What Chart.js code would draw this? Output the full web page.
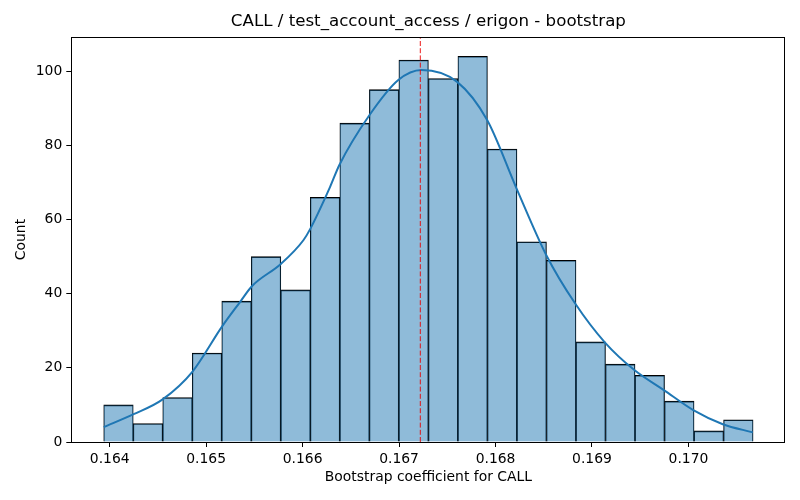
<!DOCTYPE html>
<html>
<head>
<meta charset="utf-8">
<script src="https://cdn.jsdelivr.net/npm/chart.js@4.4.1/dist/chart.umd.min.js"></script>
<style>
  html, body { margin: 0; padding: 0; background: #fff; }
  #wrap { width: 800px; height: 500px; }
</style>
</head>
<body>
<div id="wrap"><canvas id="myChart" width="800" height="500"></canvas></div>
<script>
// histogram bins (left edges + last right edge) and counts
const binEdges = [0.163938, 0.164244, 0.164550, 0.164856, 0.165162, 0.165468,
  0.165774, 0.166080, 0.166386, 0.166692, 0.166998, 0.167304, 0.167610,
  0.167916, 0.168222, 0.168528, 0.168834, 0.169140, 0.169446, 0.169752,
  0.170058, 0.170364, 0.170670];
const counts = [10, 5, 12, 24, 38, 50, 41, 66, 86, 95, 103, 98, 104, 79, 54, 49, 27, 21, 18, 11, 3, 6];

// kde curve
const kdeX = [0.163938, 0.164248, 0.164549, 0.164859, 0.165164, 0.165353, 0.165474,
  0.165774, 0.166008, 0.166078, 0.166285, 0.166381, 0.166692, 0.166992, 0.167234,
  0.167602, 0.167913, 0.168217, 0.168528, 0.168824, 0.169135, 0.169439, 0.169745,
  0.170050, 0.170356, 0.170667];
const kdeY = [4.0, 7.5, 11.5, 19.0, 31.1, 37.8, 42.0, 48.0, 54.4, 57.4, 68.8, 74.7,
  88.1, 97.6, 100.3, 97.1, 86.8, 68.4, 50.3, 37.4, 26.8, 19.4, 14.0, 8.6, 4.8, 2.6];

const meanCoef = 0.16722;
const xTicks = [0.164, 0.165, 0.166, 0.167, 0.168, 0.169, 0.170];
const yTicks = [0, 20, 40, 60, 80, 100];

const xMin = 0.163602, xMax = 0.171006, yMax = 109.2;

Chart.defaults.font.family = "'DejaVu Sans', sans-serif";
Chart.defaults.font.size = 13.9;
Chart.defaults.color = "#000";

const histData = counts.map((c, i) => ({ x: (binEdges[i] + binEdges[i + 1]) / 2, y: c }));
const kdeData = kdeX.map((x, i) => ({ x: x, y: kdeY[i] }));

// matplotlib style box round the axes
const frame = {
  id: "frame",
  afterDatasetsDraw(chart) {
    const { ctx, chartArea: a } = chart;
    ctx.save();
    ctx.strokeStyle = "#000";
    ctx.lineWidth = 1;
    ctx.strokeRect(Math.round(a.left) + 0.5, Math.round(a.top) + 0.5,
      Math.round(a.right - a.left) - 1, Math.round(a.bottom - a.top));
    ctx.restore();
  }
};

const tickGrid = { display: true, offset: false, drawOnChartArea: false, drawTicks: true, tickLength: 5, color: "#000", lineWidth: 1 };

const config = {
  type: "bar",
  data: {
    datasets: [
      {
        type: "line",
        data: [{ x: meanCoef, y: 0 }, { x: meanCoef, y: yMax }],
        borderColor: "rgba(235, 0, 0, 0.9)",
        borderWidth: 1,
        borderDash: [5, 2.2],
        pointRadius: 0,
        order: 0,
      },
      {
        type: "line",
        data: kdeData,
        borderColor: "#1f77b4",
        borderWidth: 2,
        pointRadius: 0,
        cubicInterpolationMode: "monotone",
        order: 1,
      },
      {
        type: "bar",
        data: histData,
        backgroundColor: "rgba(31, 119, 180, 0.5)",
        borderColor: "#000",
        borderWidth: { top: 1, bottom: 0, left: 0.6, right: 0.6 },
        borderSkipped: false,
        barPercentage: 1,
        categoryPercentage: 1,
        grouped: false,
        order: 2,
      },
    ],
  },
  options: {
    responsive: false,
    animation: false,
    layout: { padding: { left: 0, right: 14.5, top: 0, bottom: 0 } },
    plugins: {
      legend: { display: false },
      tooltip: { enabled: false },
      title: {
        display: true,
        text: "CALL / test_account_access / erigon - bootstrap",
        fullSize: false,
        font: { size: 16.67, weight: "normal" },
        padding: { top: 12, bottom: 5 },
        color: "#000",
      },
    },
    scales: {
      x: {
        type: "linear",
        offset: false,
        min: xMin,
        max: xMax,
        grid: tickGrid,
        border: { display: false },
        afterBuildTicks: (axis) => { axis.ticks = xTicks.map((v) => ({ value: v })); },
        afterFit: (axis) => { axis.height = 58; },
        ticks: { padding: 4, maxRotation: 0, autoSkip: false, callback: (v) => v.toFixed(3) },
        title: { display: true, text: "Bootstrap coefficient for CALL", padding: { top: 0, bottom: 14.5 } },
      },
      y: {
        type: "linear",
        min: 0,
        max: yMax,
        grid: tickGrid,
        border: { display: false },
        afterBuildTicks: (axis) => { axis.ticks = yTicks.map((v) => ({ value: v })); },
        afterFit: (axis) => { axis.width = 71.3; },
        ticks: { padding: 4, autoSkip: false },
        title: { display: true, text: "Count", padding: { top: 13, bottom: 0 } },
      },
    },
  },
  plugins: [frame],
};

const myChart = new Chart(document.getElementById("myChart"), config);
</script>
</body>
</html>
